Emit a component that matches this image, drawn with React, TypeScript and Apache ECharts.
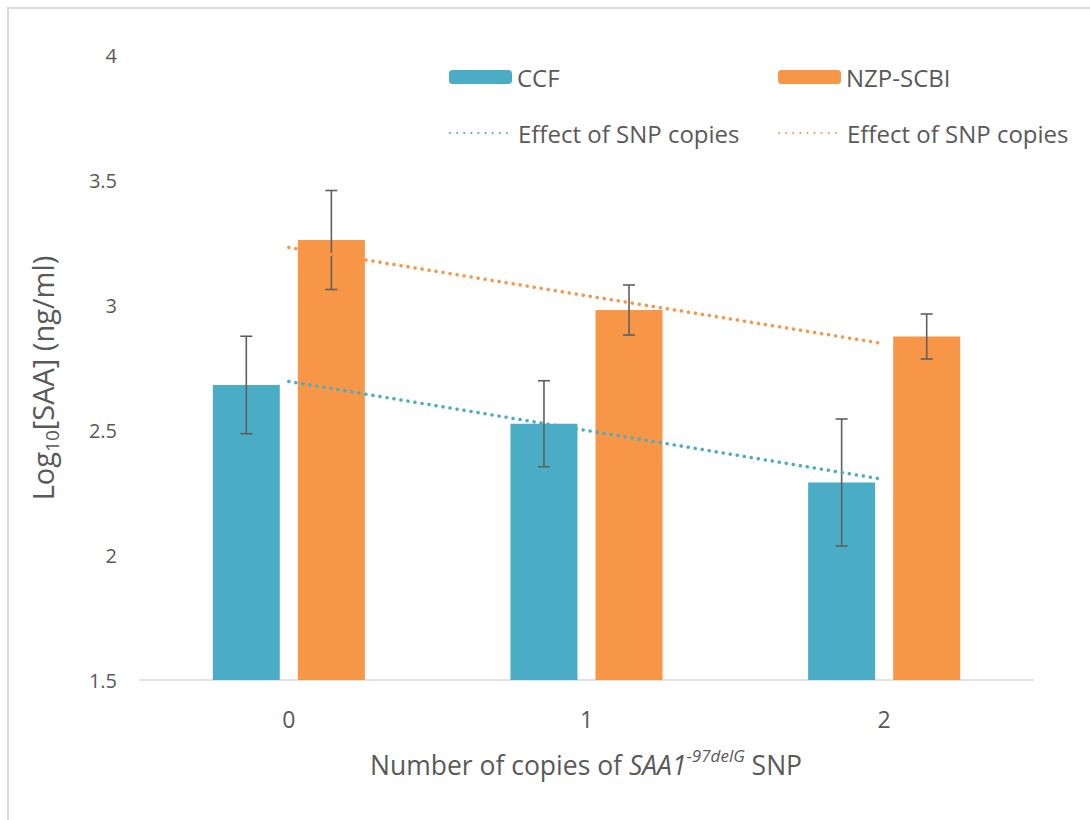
import React, { useEffect, useRef } from "react";
import * as echarts from "echarts";

const categories = ["0", "1", "2"];
const ccfMean = [2.68, 2.525, 2.29];
const ccfErr = [0.195, 0.172, 0.254];
const nzpMean = [3.26, 2.98, 2.874];
const nzpErr = [0.198, 0.1, 0.09];
const ccfTrend = [2.694, 2.498, 2.302];
const nzpTrend = [3.23, 3.037, 2.845];
const yTicks = { min: 1.5, max: 4, interval: 0.5 };

const BLUE = "#4BACC6";
const ORANGE = "#F79646";
const TEXT = "#595959";
const FONT = "Open Sans";
const BAR_FRAC = 0.225;
const GAP_FRAC = 0.27;

function errorSeries(name: string, means: number[], errs: number[], side: number) {
  return {
    type: "custom",
    name,
    z: 5,
    data: means.map((m, i) => [i, m - errs[i], m + errs[i]]),
    encode: { x: 0, y: [1, 2] },
    renderItem: (params: any, api: any) => {
      const idx = api.value(0);
      const lo = api.value(1);
      const hi = api.value(2);
      const band = api.size([1, 0])[0];
      const w = band * BAR_FRAC;
      const g = w * GAP_FRAC;
      const off = (side * (w + g)) / 2;
      const top = api.coord([idx, hi]);
      const bot = api.coord([idx, lo]);
      const x = top[0] + off;
      const cap = 6;
      const st = { stroke: "#5f5f5f", lineWidth: 1.6 };
      return {
        type: "group",
        children: [
          { type: "line", shape: { x1: x, y1: top[1], x2: x, y2: bot[1] }, style: st },
          { type: "line", shape: { x1: x - cap, y1: top[1], x2: x + cap, y2: top[1] }, style: st },
          { type: "line", shape: { x1: x - cap, y1: bot[1], x2: x + cap, y2: bot[1] }, style: st },
        ],
      };
    },
  };
}

export default function App() {
  const ref = useRef<HTMLDivElement>(null);
  useEffect(() => {
    if (!ref.current) return;
    const chart = echarts.init(ref.current, undefined, { renderer: "svg" });
    const legendText = { color: TEXT, fontSize: 24, fontFamily: FONT };
    const mkLegend = (name: string, left: number, top: number, h: number, isLine: boolean) => ({
      data: [name],
      left,
      top,
      itemWidth: 63,
      itemHeight: h,
      itemGap: 0,
      selectedMode: false,
      textStyle: legendText,
      ...(isLine ? { itemStyle: { opacity: 0 } } : {}),
      formatter: (n: string) => (n.startsWith("Effect") ? "Effect of SNP copies" : n),
    });
    chart.setOption({
      animation: false,
      backgroundColor: "#ffffff",
      grid: { left: 140, right: 57, top: 55, bottom: 140 },
      legend: [
        mkLegend("CCF", 444, 60, 14, false),
        mkLegend("NZP-SCBI", 773, 60, 14, false),
        mkLegend("Effect of SNP copies (CCF)", 444, 116, 4, true),
        mkLegend("Effect of SNP copies (NZP-SCBI)", 773, 116, 4, true),
      ],
      xAxis: {
        type: "category",
        data: categories,
        axisTick: { show: false },
        axisLine: { lineStyle: { color: "#d9d9d9", width: 1.5 } },
        axisLabel: { color: TEXT, fontSize: 23, fontFamily: FONT, margin: 27 },
      },
      yAxis: {
        type: "value",
        min: yTicks.min,
        max: yTicks.max,
        interval: yTicks.interval,
        axisLine: { show: false },
        axisTick: { show: false },
        splitLine: { show: false },
        axisLabel: { color: TEXT, fontSize: 20, fontFamily: FONT, margin: 23 },
      },
      series: [
        {
          type: "bar",
          name: "CCF",
          data: ccfMean,
          barWidth: BAR_FRAC * 100 + "%",
          barGap: GAP_FRAC * 100 + "%",
          itemStyle: { color: BLUE },
          z: 2,
        },
        {
          type: "bar",
          name: "NZP-SCBI",
          data: nzpMean,
          barWidth: BAR_FRAC * 100 + "%",
          barGap: GAP_FRAC * 100 + "%",
          itemStyle: { color: ORANGE },
          z: 2,
        },
        errorSeries("err-ccf", ccfMean, ccfErr, -1),
        errorSeries("err-nzp", nzpMean, nzpErr, 1),
        {
          type: "line",
          name: "Effect of SNP copies (CCF)",
          data: ccfTrend,
          symbol: "none",
          z: 8,
          itemStyle: { color: BLUE },
          lineStyle: { color: BLUE, width: 3.5, type: [0.1, 7], cap: "round" },
        },
        {
          type: "line",
          name: "Effect of SNP copies (NZP-SCBI)",
          data: nzpTrend,
          symbol: "none",
          z: 8,
          itemStyle: { color: ORANGE },
          lineStyle: { color: ORANGE, width: 3.5, type: [0.1, 7], cap: "round" },
        },
      ],
      graphic: [
        {
          type: "rect",
          shape: { x: 8, y: 8, width: 1200, height: 900 },
          style: { fill: "none", stroke: "#d9d9d9", lineWidth: 2 },
          silent: true,
        },
        {
          type: "text",
          x: 42,
          y: 378,
          rotation: Math.PI / 2,
          style: {
            text: "{n|Log}{s|10}{n|[SAA] (ng/ml)}",
            textAlign: "center",
            textVerticalAlign: "middle",
            fill: TEXT,
            fontFamily: FONT,
            rich: {
              n: { fontSize: 29, fontFamily: FONT, fill: TEXT, lineHeight: 38, verticalAlign: "middle" },
              s: { fontSize: 19, fontFamily: FONT, fill: TEXT, lineHeight: 38, verticalAlign: "bottom" },
            },
          },
        },
        {
          type: "text",
          x: 586,
          y: 765,
          style: {
            text: "{n|Number of copies of }{i|SAA1}{sup|-97delG}{n| SNP}",
            textAlign: "center",
            textVerticalAlign: "middle",
            fill: TEXT,
            fontFamily: FONT,
            rich: {
              n: { fontSize: 26.5, fontFamily: FONT, fill: TEXT, lineHeight: 36, verticalAlign: "middle" },
              i: { fontSize: 26.5, fontFamily: FONT, fontStyle: "italic", fill: TEXT, lineHeight: 36, verticalAlign: "middle" },
              sup: { fontSize: 17, fontFamily: FONT, fontStyle: "italic", fill: TEXT, lineHeight: 36, verticalAlign: "top" },
            },
          },
        },
      ],
    });
    return () => chart.dispose();
  }, []);
  return (
    <div style={{ position: "fixed", left: 0, top: 0, width: 1090, height: 820, background: "#fff" }}>
      <div ref={ref} style={{ width: 1090, height: 820 }} />
    </div>
  );
}
